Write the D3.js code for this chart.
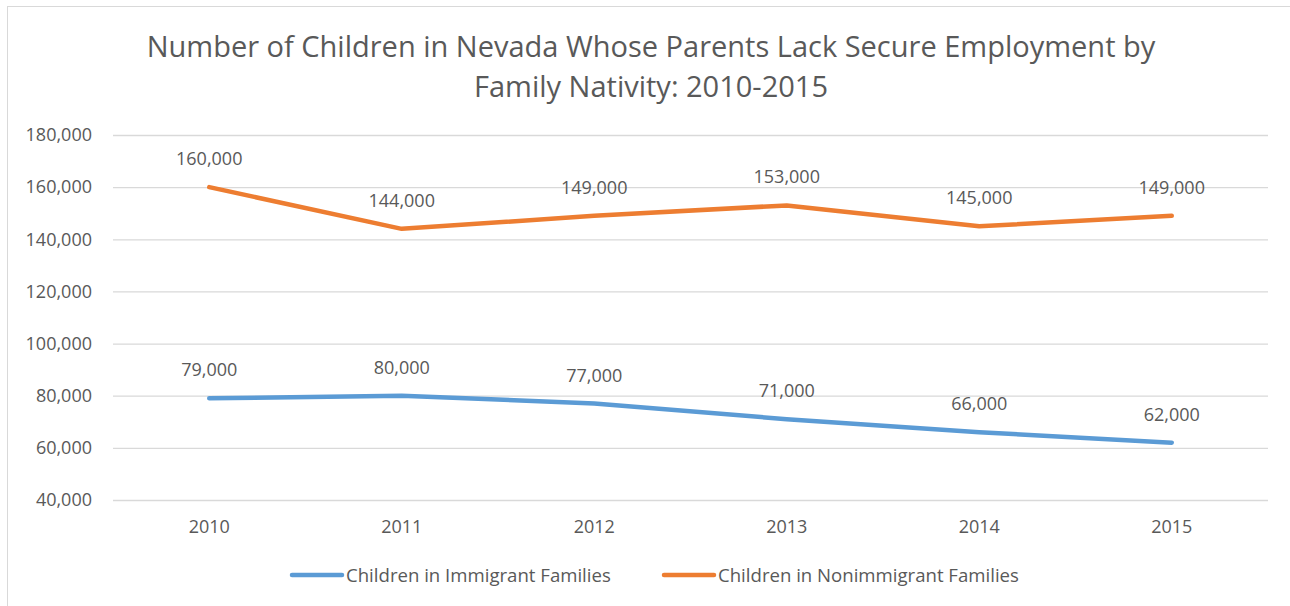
<!DOCTYPE html>
<html lang="en">
<head>
  <meta charset="utf-8">
  <title>Children in Nevada - Parents Lack Secure Employment</title>
  <script src="https://cdn.jsdelivr.net/npm/d3@7"></script>
  <style>
    body { margin: 0; background: #fff; }
    text { font-family: "Open Sans", sans-serif; fill: #595959; }
  </style>
</head>
<body>
  <svg class="chart" width="1290" height="606"></svg>
  <script>
    var years = ["2010", "2011", "2012", "2013", "2014", "2015"];
    var immigrant = [79000, 80000, 77000, 71000, 66000, 62000];
    var nonimmigrant = [160000, 144000, 149000, 153000, 145000, 149000];
    var yTicks = [40000, 60000, 80000, 100000, 120000, 140000, 160000, 180000];
    var seriesNames = ["Children in Immigrant Families", "Children in Nonimmigrant Families"];
    var seriesColors = ["#5B9BD5", "#ED7D31"];
    var titleLines = ["Number of Children in Nevada Whose Parents Lack Secure Employment by",
                      "Family Nativity: 2010-2015"];

    var margin = {left: 113, right: 22, top: 135, bottom: 106};
    var width = 1290, height = 606;
    var fmt = d3.format(",");

    var svg = d3.select("svg.chart");

    // chart frame
    svg.append("rect")
       .attr("x", 7.5).attr("y", 6.5)
       .attr("width", 1300).attr("height", 620)
       .attr("fill", "none")
       .attr("stroke", "#d9d9d9");

    var x = d3.scaleBand()
              .domain(years)
              .range([margin.left, width - margin.right]);

    var y = d3.scaleLinear()
              .domain([40000, 180000])
              .range([height - margin.bottom, margin.top]);

    // gridlines + y labels
    var yAxis = d3.axisLeft(y)
                  .tickValues(yTicks)
                  .tickFormat(fmt)
                  .tickSize(-(width - margin.left - margin.right))
                  .tickPadding(21);

    var gy = svg.append("g")
                .attr("transform", "translate(" + margin.left + ",0)")
                .call(yAxis);
    gy.select(".domain").remove();
    gy.selectAll(".tick line").attr("stroke", "#d9d9d9").attr("stroke-width", 1.3);
    gy.selectAll(".tick text")
      .attr("font-size", 18)
      .attr("fill", "#595959")
      .style("font-family", "Open Sans");

    // x labels
    var xAxis = d3.axisBottom(x).tickSize(0).tickPadding(20);
    var gx = svg.append("g")
                .attr("transform", "translate(0," + (height - margin.bottom) + ")")
                .call(xAxis);
    gx.select(".domain").remove();
    gx.selectAll(".tick text")
      .attr("font-size", 18)
      .attr("fill", "#595959")
      .style("font-family", "Open Sans");

    var series = [immigrant, nonimmigrant];

    var line = d3.line()
                 .x(function(d, i) { return x(years[i]) + x.bandwidth() / 2; })
                 .y(function(d) { return y(d); });

    series.forEach(function(vals, k) {
      svg.append("path")
         .datum(vals)
         .attr("d", line)
         .attr("fill", "none")
         .attr("stroke", seriesColors[k])
         .attr("stroke-width", 4.5)
         .attr("stroke-linecap", "round")
         .attr("stroke-linejoin", "round");

      svg.selectAll(".lbl" + k)
         .data(vals)
         .enter().append("text")
         .attr("class", "lbl" + k)
         .attr("x", function(d, i) { return x(years[i]) + x.bandwidth() / 2; })
         .attr("y", function(d) { return y(d) - 22; })
         .attr("text-anchor", "middle")
         .attr("font-size", 18)
         .text(fmt);
    });

    // title
    svg.selectAll(".title")
       .data(titleLines)
       .enter().append("text")
       .attr("class", "title")
       .attr("x", 651)
       .attr("y", function(d, i) { return 57 + i * 40; })
       .attr("text-anchor", "middle")
       .attr("font-size", 29)
       .text(function(d) { return d; });

    // legend
    var legendX = [292, 664];
    seriesNames.forEach(function(name, k) {
      var g = svg.append("g").attr("transform", "translate(" + legendX[k] + ",575)");
      g.append("line")
       .attr("x1", 0).attr("x2", 50)
       .attr("stroke", seriesColors[k])
       .attr("stroke-width", 4.5)
       .attr("stroke-linecap", "round");
      g.append("text")
       .attr("x", 54).attr("y", 7)
       .attr("font-size", 18.6)
       .text(name);
    });
  </script>
</body>
</html>
